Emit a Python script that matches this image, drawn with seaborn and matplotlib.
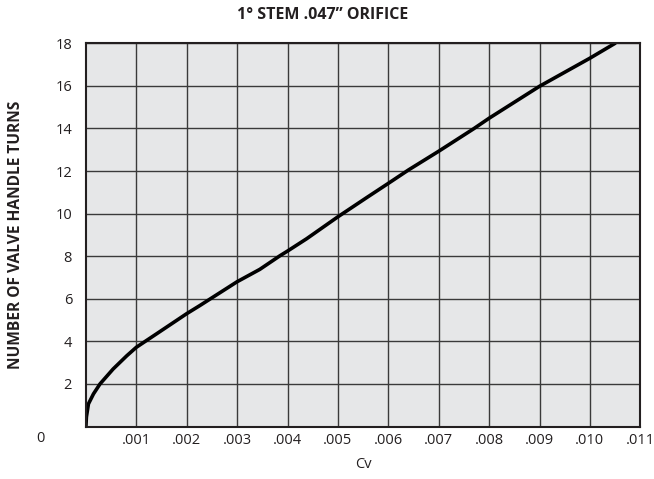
import matplotlib
matplotlib.use("Agg")
import matplotlib.pyplot as plt
import seaborn as sns
import pandas as pd

title = "1° STEM .047\u201d ORIFICE"
x_label = "Cv"
y_label = "NUMBER OF VALVE HANDLE TURNS"

cv = [0.0, 0.00001, 0.00005, 0.00015, 0.00028, 0.00054, 0.00081, 0.001, 0.0014,
      0.002, 0.00226, 0.003, 0.00345, 0.00385, 0.004, 0.00438, 0.005, 0.00557,
      0.006, 0.0064, 0.007, 0.00769, 0.008, 0.009, 0.010, 0.0105]
turns = [0.0, 0.45, 1.06, 1.53, 2.0, 2.7, 3.32, 3.72, 4.35,
         5.3, 5.68, 6.8, 7.38, 8.02, 8.24, 8.82, 9.85, 10.75,
         11.42, 12.05, 12.93, 13.98, 14.48, 15.98, 17.3, 18.0]

x_ticks = [0.001, 0.002, 0.003, 0.004, 0.005, 0.006, 0.007, 0.008, 0.009, 0.010, 0.011]
x_tick_labels = [".001", ".002", ".003", ".004", ".005", ".006", ".007", ".008", ".009", ".010", ".011"]
y_ticks = [2, 4, 6, 8, 10, 12, 14, 16, 18]
y_tick_labels = ["2", "4", "6", "8", "10", "12", "14", "16", "18"]

sns.set_theme(style="white")
plt.rcParams["font.family"] = ["Open Sans", "DejaVu Sans"]

df = pd.DataFrame({"cv": cv, "turns": turns})

W, H = 654, 479
fig = plt.figure(figsize=(W / 100, H / 100), dpi=100)
ax = fig.add_axes([85.9 / W, 1 - 426.5 / H, (640.3 - 85.9) / W, (426.5 - 43.3) / H])
ax.set_facecolor("#e6e7e8")

sns.lineplot(data=df, x="cv", y="turns", ax=ax, color="black", linewidth=2.6,
             sort=False, estimator=None)
ax.lines[0].set_solid_joinstyle("round")

ax.set_xlim(0, 0.011)
ax.set_ylim(0, 18)
ax.set_xticks(x_ticks)
ax.set_xticklabels(x_tick_labels)
ax.set_yticks(y_ticks)
ax.set_yticklabels(y_tick_labels)
ax.tick_params(axis="x", length=0, labelsize=10.5, colors="#231f20", pad=5)
ax.tick_params(axis="y", length=0, labelsize=10.5, colors="#231f20", pad=10)
ax.grid(True, color="#3a3a3a", linewidth=1.0)
for s in ax.spines.values():
    s.set_visible(True)
    s.set_color("#231f20")
    s.set_linewidth(1.5)

ax.set_xlabel("")
ax.set_ylabel("")
fig.text(363 / W, 1 - 464 / H, x_label, ha="center", va="center",
         fontsize=10.5, color="#231f20")
fig.text(16 / W, 1 - 234.5 / H, y_label, rotation=90, ha="center", va="center",
         fontsize=11.2, fontweight="bold", color="#231f20")
fig.text(323 / W, 1 - 15 / H, title, ha="center", va="center",
         fontsize=11.5, fontweight="bold", color="#231f20")
fig.text(40 / W, 1 - 438 / H, "0", ha="center", va="center", fontsize=10.5, color="#231f20")

fig.savefig("out.png", dpi=100)
